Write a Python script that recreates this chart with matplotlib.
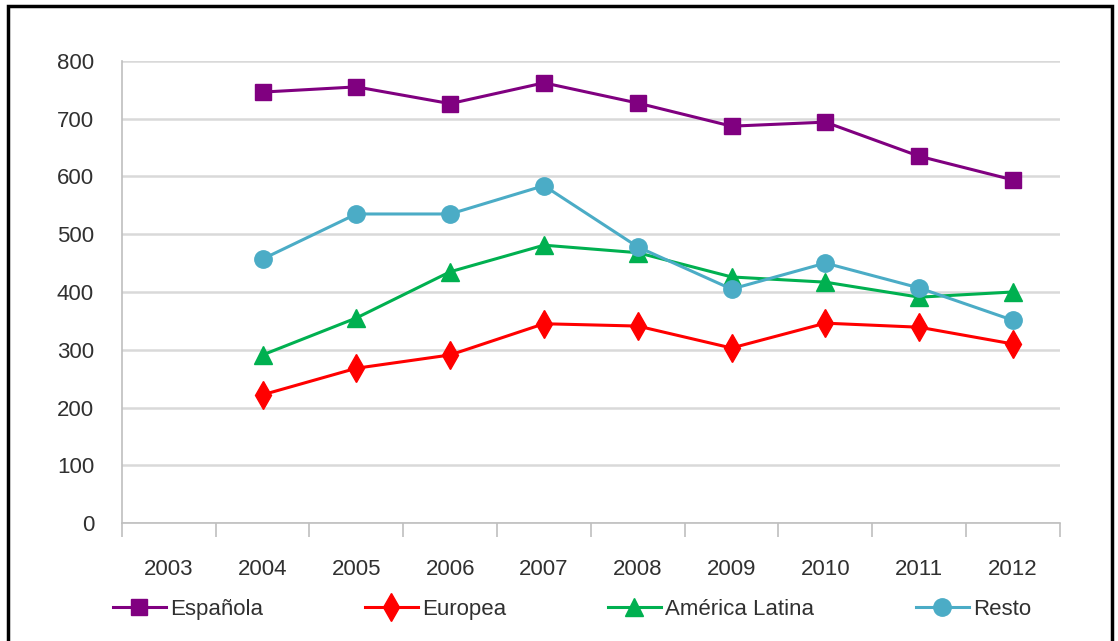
import numpy as np
import matplotlib.pyplot as plt
from matplotlib.patches import Rectangle

years = ["2003", "2004", "2005", "2006", "2007", "2008", "2009", "2010", "2011", "2012"]
espanola = [np.nan, 746, 755, 726, 762, 727, 687, 694, 635, 594]
europea = [np.nan, 222, 268, 291, 345, 341, 303, 346, 339, 310]
america_latina = [np.nan, 291, 355, 435, 481, 468, 426, 417, 391, 400]
resto = [np.nan, 457, 535, 535, 584, 478, 405, 450, 407, 351]

plt.rcParams['font.family'] = ['Liberation Sans', 'DejaVu Sans']

fig = plt.figure(figsize=(11.18, 6.41), dpi=100)
ax = fig.add_axes([0.109, 0.184, 0.839, 0.721])

x = np.arange(len(years))
ax.plot(x, espanola, color='#800080', lw=2.2, marker='s', ms=11, label='Española')
ax.plot(x, europea, color='#FF0000', lw=2.2, marker='d', ms=14, label='Europea')
ax.plot(x, america_latina, color='#00B050', lw=2.2, marker='^', ms=13, label='América Latina')
ax.plot(x, resto, color='#4BACC6', lw=2.2, marker='o', ms=12.5, label='Resto')

ax.set_xlim(-0.5, len(years) - 0.5)
ax.set_ylim(0, 800)
ax.set_yticks(range(0, 801, 100))
ax.tick_params(axis='y', length=0, pad=20, labelsize=16, labelcolor='#303030')

ax.set_xticks(x)
ax.set_xticklabels(years)
ax.set_xticks(np.arange(-0.5, len(years)), minor=True)
ax.tick_params(axis='x', which='major', length=0, pad=26, labelsize=16, labelcolor='#303030')
ax.tick_params(axis='x', which='minor', length=10, color='#BFBFBF', width=1.2)

ax.grid(axis='y', color='#D9D9D9', lw=1.8)
ax.set_axisbelow(True)
for s in ['top', 'right']:
    ax.spines[s].set_visible(False)
ax.spines['left'].set_color('#BFBFBF')
ax.spines['bottom'].set_color('#BFBFBF')
ax.spines['left'].set_linewidth(1.2)
ax.spines['bottom'].set_linewidth(1.2)

ax.legend(loc='upper center', bbox_to_anchor=(0.48, -0.12), ncol=4, frameon=False,
          fontsize=16, columnspacing=4.55, handlelength=2.4, handletextpad=0.2,
          labelcolor='#303030')

fig.patches.append(Rectangle((0.007, -0.02), 0.988, 1.01, transform=fig.transFigure,
                             fill=False, edgecolor='black', lw=2.5))

fig.savefig('out.png', dpi=100)
